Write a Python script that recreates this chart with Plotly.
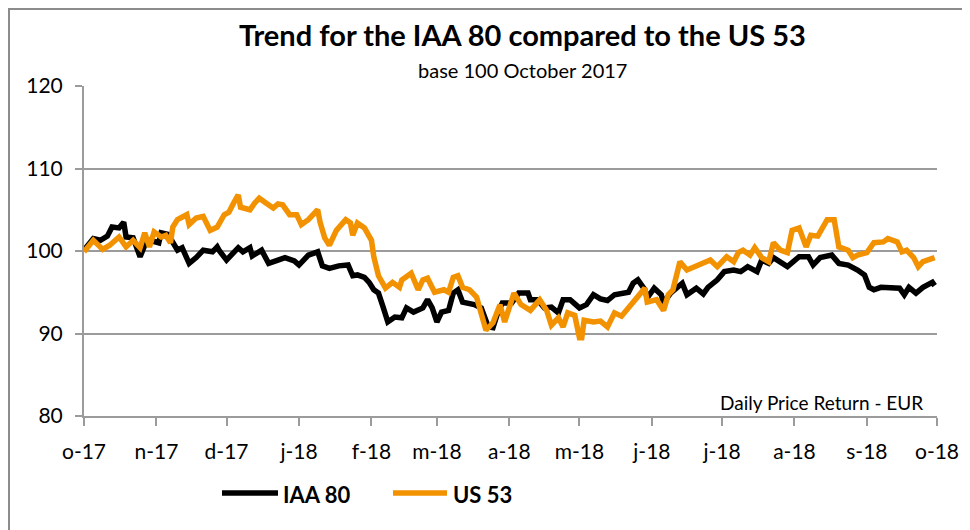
import pandas as pd
import plotly.graph_objects as go

base_date = "2017-10-01"

# IAA 80: day offsets from 1 Oct 2017 and index values
iaa_days = [0, 4, 7, 10, 12, 15, 17, 18, 21, 24, 26, 28, 32, 33, 36, 40, 42, 45, 48, 51,
            55, 57, 58, 61, 66, 68, 71, 72, 76, 79, 83, 86, 90, 92, 96, 100, 102, 105, 109, 113,
            115, 117, 120, 122, 124, 126, 128, 130, 133, 136, 138, 141, 145, 147, 149, 151, 153, 156, 158, 160,
            162, 167, 170, 173, 175, 177, 179, 183, 186, 190, 191, 194, 197, 200, 203, 205, 208, 212, 215, 218,
            221, 224, 227, 230, 233, 235, 237, 240, 241, 244, 247, 248, 251, 256, 258, 262, 265, 267, 271, 274,
            278, 281, 284, 288, 290, 293, 295, 301, 306, 310, 312, 315, 320, 323, 327, 331, 334, 336, 338, 341,
            345, 349, 351, 353, 356, 359, 363, 364]
iaa_vals = [100.1, 101.5, 101.3, 101.8, 102.9, 102.8, 103.5, 101.7, 101.6, 99.3, 100.7, 101.3, 101.0, 102.2, 102.0, 100.1, 100.4, 98.5, 99.2, 100.1,
            99.9, 100.5, 100.0, 98.9, 100.4, 99.9, 100.4, 99.4, 100.1, 98.5, 98.9, 99.2, 98.8, 98.3, 99.5, 99.9, 98.2, 97.9, 98.2, 98.3,
            97.0, 97.1, 96.8, 96.2, 95.3, 94.9, 93.2, 91.4, 92.0, 91.9, 93.1, 92.6, 93.1, 94.1, 93.1, 91.4, 92.6, 92.8, 94.9, 95.3,
            93.8, 93.5, 93.1, 90.8, 90.7, 92.5, 93.7, 93.7, 94.9, 94.9, 94.1, 94.1, 93.1, 93.2, 92.5, 94.1, 94.1, 93.1, 93.5, 94.7,
            94.2, 94.0, 94.7, 94.9, 95.0, 96.1, 96.5, 95.3, 94.3, 95.5, 94.7, 93.7, 94.9, 96.1, 94.7, 95.5, 94.8, 95.6, 96.5, 97.5,
            97.7, 97.5, 98.1, 97.5, 98.9, 98.5, 99.2, 98.1, 99.3, 99.3, 98.3, 99.2, 99.5, 98.5, 98.3, 97.7, 97.1, 95.6, 95.3, 95.6,
            95.6, 95.5, 94.7, 95.6, 94.9, 95.6, 96.2, 95.8]

# US 53: day offsets from 1 Oct 2017 and index values
us_days = [0, 4, 8, 11, 15, 18, 21, 24, 26, 28, 30, 33, 35, 37, 38, 40, 44, 45, 48, 51,
           54, 57, 60, 62, 64, 66, 67, 70, 71, 73, 75, 78, 81, 83, 85, 88, 91, 93, 96, 100,
           101, 103, 105, 108, 110, 112, 114, 115, 117, 120, 123, 124, 126, 129, 132, 135, 136, 140, 143, 145,
           147, 150, 154, 156, 158, 160, 162, 165, 168, 170, 172, 175, 178, 180, 184, 187, 191, 195, 198, 200,
           203, 205, 207, 210, 212, 213, 214, 218, 221, 224, 227, 230, 233, 235, 237, 240, 241, 245, 248, 250,
           252, 253, 255, 258, 261, 264, 268, 271, 275, 278, 280, 282, 285, 287, 290, 293, 295, 298, 301, 303,
           306, 309, 311, 314, 316, 317, 318, 321, 323, 327, 329, 331, 335, 338, 342, 344, 348, 350, 352, 355,
           357, 359, 362, 364]
us_vals = [99.9, 101.3, 100.2, 100.7, 101.7, 100.5, 101.3, 100.4, 102.2, 100.5, 102.3, 101.7, 101.9, 101.0, 102.9, 103.8, 104.4, 103.2, 104.0, 104.2,
           102.5, 102.9, 104.4, 104.7, 105.8, 106.8, 105.3, 105.2, 105.0, 105.8, 106.4, 105.8, 105.2, 105.7, 105.6, 104.4, 104.4, 103.2, 103.8, 105.0,
           103.5, 101.6, 100.7, 102.5, 103.2, 103.8, 103.4, 101.9, 103.4, 102.8, 101.3, 99.3, 97.0, 95.5, 96.2, 95.6, 96.5, 97.3, 95.3, 96.5,
           96.7, 95.0, 95.3, 95.0, 96.8, 97.0, 95.6, 95.3, 94.4, 92.5, 90.4, 91.3, 93.5, 91.4, 94.9, 93.5, 92.8, 94.1, 92.8, 91.0,
           91.9, 90.8, 92.5, 92.2, 89.5, 89.5, 91.6, 91.4, 91.5, 90.8, 92.5, 92.1, 93.1, 93.8, 94.3, 95.5, 93.8, 94.1, 92.8, 94.7,
           95.3, 96.5, 98.7, 97.7, 98.1, 98.5, 98.9, 98.1, 99.3, 98.7, 99.8, 100.1, 99.5, 100.4, 99.2, 98.7, 101.0, 100.1, 99.8, 102.5,
           102.8, 100.5, 101.9, 101.8, 102.9, 103.2, 103.8, 103.8, 100.5, 100.1, 99.2, 99.5, 99.8, 101.0, 101.1, 101.5, 101.1, 99.9, 100.1, 99.2,
           98.1, 98.7, 98.9, 99.2]

month_ticks = ["2017-10-01", "2017-11-01", "2017-12-01", "2018-01-01", "2018-02-01", "2018-03-01",
               "2018-04-01", "2018-05-01", "2018-06-01", "2018-07-01", "2018-08-01", "2018-09-01", "2018-10-01"]
month_labels = ["o-17", "n-17", "d-17", "j-18", "f-18", "m-18", "a-18", "m-18", "j-18", "j-18", "a-18", "s-18", "o-18"]
y_ticks = [80, 90, 100, 110, 120]
series_names = ["IAA 80", "US 53"]
series_colors = ["#000000", "#F39200"]

t0 = pd.Timestamp(base_date)
iaa_dates = [t0 + pd.Timedelta(days=d) for d in iaa_days]
us_dates = [t0 + pd.Timedelta(days=d) for d in us_days]

FONT = "Lato, 'Open Sans', sans-serif"
GRID = "#9b9b9b"
LW = 5.5

fig = go.Figure()
fig.add_trace(go.Scatter(x=iaa_dates, y=iaa_vals, mode="lines", name=series_names[0],
                         line=dict(color=series_colors[0], width=LW), showlegend=False))
fig.add_trace(go.Scatter(x=us_dates, y=us_vals, mode="lines", name=series_names[1],
                         line=dict(color=series_colors[1], width=LW), showlegend=False))

# page body has an 8px margin; screen coordinates below are of the final page
OFF = 8
W, H = 962, 522
L, T = 84 - OFF, 86 - OFF
pw, ph = 853, 330
R, B = W - L - pw, H - T - ph


def px(x):
    return (x - OFF - L) / pw


def py(y):
    return (H - B - (y - OFF)) / ph


legend_shapes = []
legend_annots = []
for name, color, x0, x1, tx in zip(series_names, series_colors, [222, 393], [278, 447], [281, 451]):
    legend_shapes.append(dict(type="line", xref="paper", yref="paper",
                              x0=px(x0), x1=px(x1), y0=py(493), y1=py(493),
                              line=dict(color=color, width=LW)))
    legend_annots.append(dict(text="<b>" + name + "</b>", x=px(tx), y=py(494), xref="paper", yref="paper",
                              xanchor="left", yanchor="middle", showarrow=False,
                              font=dict(size=22, family=FONT)))

fig.update_layout(
    width=W, height=H,
    margin=dict(l=L, r=R, t=T, b=B),
    paper_bgcolor="white", plot_bgcolor="white",
    font=dict(family=FONT, size=21, color="#000000"),
    showlegend=False,
    xaxis=dict(type="date", range=["2017-10-01", "2018-10-01"],
               tickvals=month_ticks, ticktext=month_labels,
               showgrid=False, zeroline=False,
               showline=True, linecolor=GRID, linewidth=2,
               ticks="outside", ticklen=8, tickwidth=2, tickcolor=GRID,
               ticklabelstandoff=8,
               tickfont=dict(size=21, family=FONT)),
    yaxis=dict(range=[80, 120], tickvals=y_ticks,
               showgrid=True, gridcolor=GRID, gridwidth=2, zeroline=False,
               showline=True, linecolor=GRID, linewidth=2,
               ticks="outside", ticklen=7, tickwidth=2, tickcolor=GRID,
               ticklabelstandoff=8,
               tickfont=dict(size=21, family=FONT)),
    annotations=[
        dict(text="<b>Trend for the IAA 80 compared to the US 53</b>", x=px(522), y=py(34),
             xref="paper", yref="paper", xanchor="center", yanchor="middle",
             showarrow=False, font=dict(size=29, family=FONT)),
        dict(text="base 100 October 2017", x=px(522), y=py(70),
             xref="paper", yref="paper", xanchor="center", yanchor="middle",
             showarrow=False, font=dict(size=20, family=FONT)),
        dict(text="Daily Price Return - EUR", x=px(925), y=py(402),
             xref="paper", yref="paper", xanchor="right", yanchor="middle",
             showarrow=False, font=dict(size=19, family=FONT)),
    ] + legend_annots,
    shapes=[
        dict(type="rect", xref="paper", yref="paper",
             x0=px(9), x1=px(965), y0=py(540), y1=py(9),
             line=dict(color="#8c8c8c", width=2), fillcolor="rgba(0,0,0,0)", layer="below"),
    ] + legend_shapes,
)

fig.write_html("out.html")
